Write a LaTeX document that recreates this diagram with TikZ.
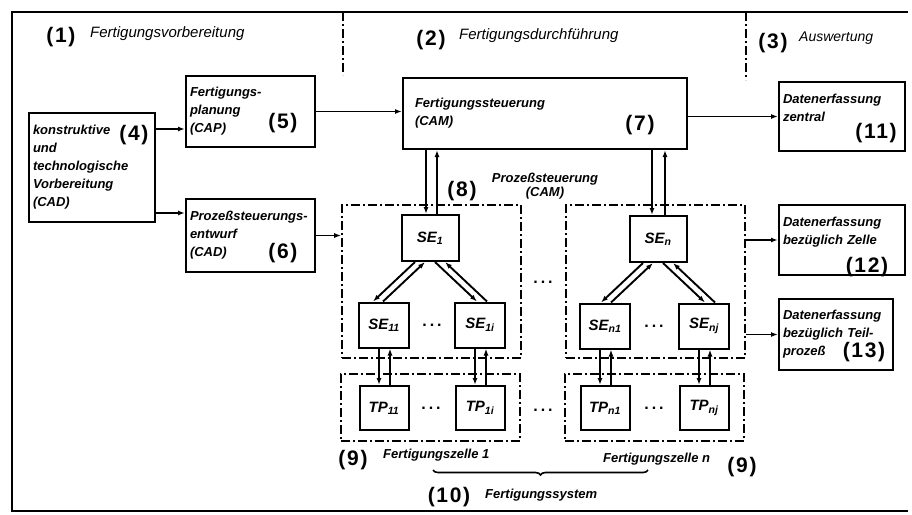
\documentclass[tikz,border=0pt]{standalone}
\usepackage{fontspec}
\setmainfont{Liberation Sans}
\newfontfamily\numfont[LetterSpace=8]{Liberation Sans}
\usetikzlibrary{positioning,arrows.meta,decorations.pathreplacing}
\hyphenpenalty=10000
\exhyphenpenalty=10000

\tikzset{
  box/.style={draw, line width=2pt, align=left, inner xsep=4pt, inner ysep=0pt,
    font=\fontsize{13}{18}\selectfont\bfseries\itshape},
  cell/.style={draw, line width=2pt, minimum width=50, minimum height=45, inner sep=0pt,
    font=\fontsize{15}{16}\selectfont\bfseries\itshape},
  region/.style={draw, line width=1.6pt, dash pattern=on 9pt off 3pt on 2pt off 3pt, inner sep=0pt},
  sep/.style={line width=1.6pt, dash pattern=on 9pt off 3pt on 2pt off 3pt},
  conn/.style={line width=1.9pt, -{Latex[length=7pt,width=5pt]}},
  num/.style={font=\fontsize{21}{22}\selectfont\numfont\bfseries, inner sep=0pt},
  hdr/.style={font=\fontsize{15}{18}\selectfont\itshape, inner sep=0pt},
  lbl/.style={font=\fontsize{13}{14}\selectfont\bfseries\itshape, inner sep=0pt, align=center},
  dots/.style={font=\fontsize{16}{16}\selectfont\bfseries, inner sep=0pt},
}

\begin{document}
\begin{tikzpicture}[x=1pt, y=-1pt]
    \useasboundingbox (0,0) rectangle (912,514);

    % Frame and phase separators
    \draw[line width=1.8pt] (908,12) -- (12,12) -- (12,511) -- (908,511);
    \draw[sep] (343,12) -- (343,75);
    \draw[sep] (746,12) -- (746,80);

    % Phase headers
    \node[num] (n1) at (61,37) {(1)};
    \node[hdr, anchor=west] (hdr1) at (90,34) {Fertigungsvorbereitung};
    \node[num] (n2) at (431,40) {(2)};
    \node[hdr, anchor=west] (hdr2) at (459,36) {Fertigungsdurchführung};
    \node[num] (n3) at (773,43) {(3)};
    \node[hdr, anchor=west, font=\fontsize{14}{16}\selectfont\itshape] (hdr3) at (799,38) {Auswertung};

    % Preparation boxes
    \node[box, text width=118, minimum height=109] (box4) at (92,167.5)
        {konstruktive\\und\\technologische\\Vorbereitung\\(CAD)};
    \node[box, text width=121, minimum height=71] (box5) at (250.5,111.5)
        {Fertigungs-\\planung\\(CAP)};
    \node[box, text width=121, minimum height=73] (box6) at (250.5,235.5)
        {Prozeßsteuerungs-\\entwurf\\(CAD)};

    % Control box
    \node[box, inner xsep=12pt, text width=260, minimum height=71] (box7) at (545,113.5)
        {Fertigungssteuerung\\(CAM)};

    % Evaluation boxes
    \node[box, text width=118, minimum height=69] (box11) at (842,116.5)
        {Datenerfassung\\zentral\\\mbox{}};
    \node[box, text width=118, minimum height=70] (box12) at (842,240)
        {Datenerfassung\\bezüglich Zelle\\\mbox{}};
    \node[box, text width=106, minimum height=71] (box13) at (836,334.5)
        {Datenerfassung\\bezüglich Teil-\\prozeß};

    % Numbers
    \node[num] (n4) at (134,135) {(4)};
    \node[num] (n5) at (283,123) {(5)};
    \node[num] (n6) at (283,253) {(6)};
    \node[num] (n7) at (640,125) {(7)};
    \node[num] (n8) at (462,191) {(8)};
    \node[num] (n11) at (876,133) {(11)};
    \node[num] (n12) at (867,267) {(12)};
    \node[num] (n13) at (864,352) {(13)};

    % Cell regions
    \node[region, minimum width=179, minimum height=153] (SEreg1) at (431.5,281.5) {};
    \node[region, minimum width=179, minimum height=153] (SEregn) at (655.5,281.5) {};
    \node[region, minimum width=179, minimum height=67] (TPreg1) at (430.5,407.5) {};
    \node[region, minimum width=179, minimum height=67] (TPregn) at (654.5,407.5) {};
    \node[lbl] (psteu) at (545,186) {Prozeßsteuerung\\(CAM)};

    % Control units
    \node[cell, minimum width=57, minimum height=46] (SE1) at (430,238) {SE\textsubscript{1}};
    \node[cell, minimum width=57, minimum height=46] (SEn) at (658,239) {SE\textsubscript{n}};
    \node[cell] (SE11) at (384,325) {SE\textsubscript{11}};
    \node[cell] (SE1i) at (480,325) {SE\textsubscript{1i}};
    \node[cell] (SEn1) at (605,326) {SE\textsubscript{n1}};
    \node[cell] (SEnj) at (704,326) {SE\textsubscript{nj}};

    % Part processes
    \node[cell, minimum width=49, minimum height=44] (TP11) at (384,408) {TP\textsubscript{11}};
    \node[cell, minimum width=49, minimum height=44] (TP1i) at (480,408) {TP\textsubscript{1i}};
    \node[cell, minimum width=49, minimum height=44] (TPn1) at (605,408) {TP\textsubscript{n1}};
    \node[cell, minimum width=49, minimum height=44] (TPnj) at (704,408) {TP\textsubscript{nj}};

    % Dots
    \node[dots] (d1) at (432,325) {.\hspace{3pt}.\hspace{3pt}.};
    \node[dots] (d2) at (654,326) {.\hspace{3pt}.\hspace{3pt}.};
    \node[dots] (d3) at (543,282) {.\hspace{3pt}.\hspace{3pt}.};
    \node[dots] (d4) at (431,408) {.\hspace{3pt}.\hspace{3pt}.};
    \node[dots] (d5) at (543,410) {.\hspace{3pt}.\hspace{3pt}.};
    \node[dots] (d6) at (654,408) {.\hspace{3pt}.\hspace{3pt}.};

    % Bottom labels
    \node[num] (n9a) at (353,460) {(9)};
    \node[lbl, anchor=west] (zelle1) at (383,455) {Fertigungszelle 1};
    \node[lbl, anchor=west] (zellen) at (603,459) {Fertigungszelle n};
    \node[num] (n9b) at (742,467) {(9)};
    \coordinate (brL) at (433,470);
    \coordinate (brR) at (648,470);
    \draw[line width=1.6pt, decorate, decoration={brace, mirror, amplitude=5pt}] (brL) -- (brR);
    \node[num] (n10) at (449,497) {(10)};
    \node[lbl, anchor=west] (fsys) at (485,495) {Fertigungssystem};

    % Connections between the main boxes
    \draw[conn] ([yshift=-17.5pt]box5.west -| box4.east) -- ([yshift=-17.5pt]box5.west);
    \draw[conn] ([yshift=22.5pt]box6.west -| box4.east) -- ([yshift=22.5pt]box6.west);
    \draw[conn] (box5.east) -- (box5.east -| box7.west);
    \draw[conn] (box11.west -| box7.east) -- (box11.west);
    \draw[conn] (box6.east) -- (box6.east -| SEreg1.west);
    \draw[conn] (box12.west -| SEregn.east) -- (box12.west);
    \draw[conn] (box13.west -| SEregn.east) -- (box13.west);

    % Control box to control units
    \draw[conn] ([xshift=-4pt]SE1.north |- box7.south) -- ([xshift=-4pt]SE1.north);
    \draw[conn] ([xshift=7pt]SE1.north) -- ([xshift=7pt]SE1.north |- box7.south);
    \draw[conn] ([xshift=-6pt]SEn.north |- box7.south) -- ([xshift=-6pt]SEn.north);
    \draw[conn] ([xshift=7pt]SEn.north) -- ([xshift=7pt]SEn.north |- box7.south);

    % Control units to sub units
    \draw[conn] ([xshift=-15pt]SE1.south) -- ([xshift=-11pt]SE11.north);
    \draw[conn] ([xshift=-1pt]SE11.north) -- ([xshift=-5pt]SE1.south);
    \draw[conn] ([xshift=5pt]SE1.south) -- ([xshift=-3pt]SE1i.north);
    \draw[conn] ([xshift=7pt]SE1i.north) -- ([xshift=15pt]SE1.south);
    \draw[conn] ([xshift=-15pt]SEn.south) -- ([xshift=-4pt]SEn1.north);
    \draw[conn] ([xshift=6pt]SEn1.north) -- ([xshift=-5pt]SEn.south);
    \draw[conn] ([xshift=5pt]SEn.south) -- ([xshift=1pt]SEnj.north);
    \draw[conn] ([xshift=11pt]SEnj.north) -- ([xshift=15pt]SEn.south);

    % Sub units to part processes
    \draw[conn] ([xshift=-5pt]SE11.south) -- ([xshift=-5pt]TP11.north);
    \draw[conn] ([xshift=6pt]TP11.north) -- ([xshift=6pt]SE11.south);
    \draw[conn] ([xshift=-5pt]SE1i.south) -- ([xshift=-5pt]TP1i.north);
    \draw[conn] ([xshift=6pt]TP1i.north) -- ([xshift=6pt]SE1i.south);
    \draw[conn] ([xshift=-5pt]SEn1.south) -- ([xshift=-5pt]TPn1.north);
    \draw[conn] ([xshift=6pt]TPn1.north) -- ([xshift=6pt]SEn1.south);
    \draw[conn] ([xshift=-5pt]SEnj.south) -- ([xshift=-5pt]TPnj.north);
    \draw[conn] ([xshift=6pt]TPnj.north) -- ([xshift=6pt]SEnj.south);
\end{tikzpicture}
\end{document}
